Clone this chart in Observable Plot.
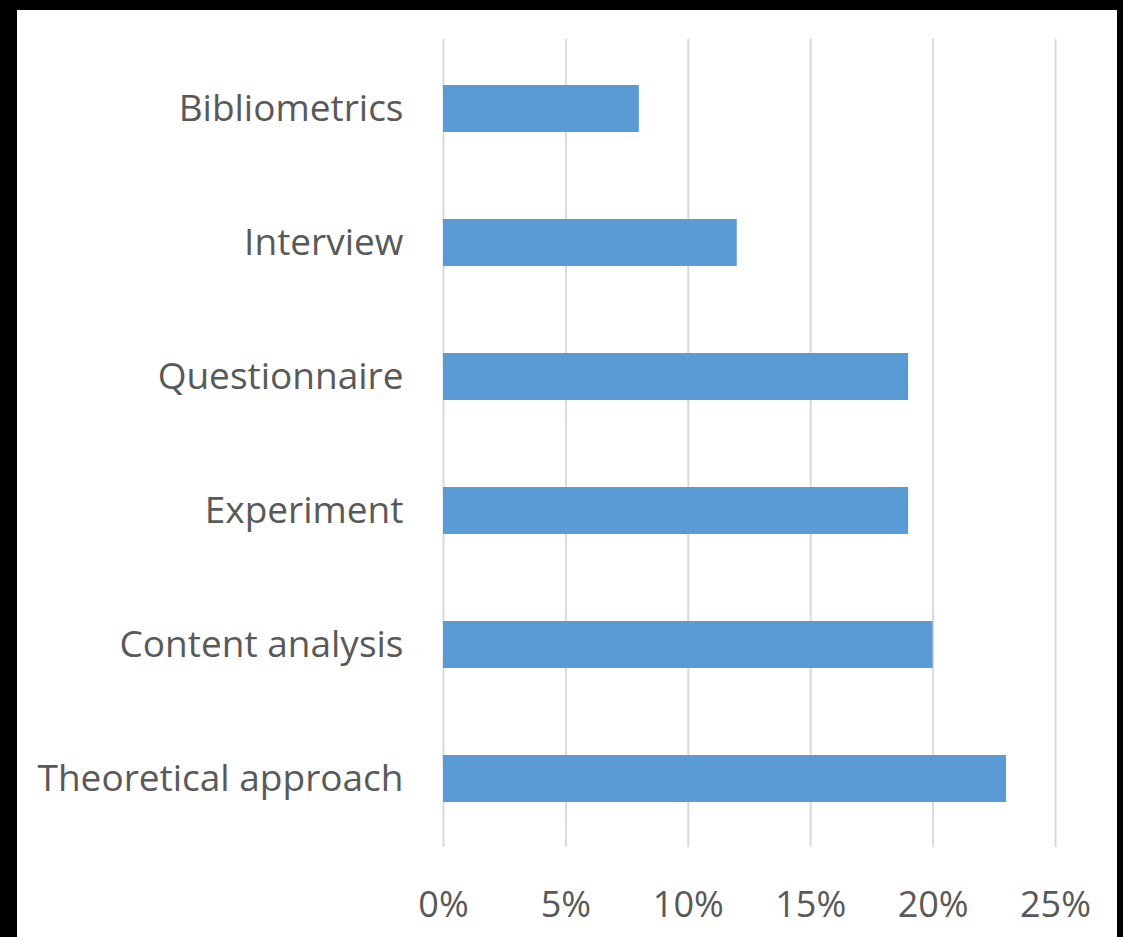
<!DOCTYPE html>
<html><head><meta charset="utf-8">
<script src="https://cdn.jsdelivr.net/npm/d3@7"></script>
<script src="https://cdn.jsdelivr.net/npm/@observablehq/plot@0.6"></script>
<style>
html,body{margin:0;padding:0;background:#000;}
#frame{box-sizing:border-box;width:1123px;height:937px;padding:10px 6px 0 17px;background:#000;}
#chart{background:#fff;width:1100px;height:927px;}
svg{display:block;}
</style></head><body>
<div id="frame"><div id="chart"></div></div>
<script>
const categories = ["Bibliometrics","Interview","Questionnaire","Experiment","Content analysis","Theoretical approach"];
const values = [8, 12, 19, 19, 20, 23];
const xTicks = [0, 5, 10, 15, 20, 25];
const data = categories.map((c, i) => ({category: c, value: values[i]}));

const plot = Plot.plot({
  width: 1100,
  height: 927,
  marginLeft: 426,
  marginRight: 62,
  marginTop: 29,
  marginBottom: 90,
  style: {fontFamily: "'Open Sans', sans-serif", fontSize: "36px", color: "#595959", background: "#fff"},
  x: {domain: [0, 25], ticks: xTicks, tickFormat: d => d + "%", label: null},
  y: {domain: categories, padding: 0.65, paddingOuter: 0.32, label: null},
  marks: [
    Plot.ruleX(xTicks, {stroke: "#d9d9d9", strokeWidth: 2}),
    Plot.barX(data, {y: "category", x: "value", fill: "#5b9bd5"}),
    Plot.axisX({ticks: xTicks, tickFormat: d => d + "%", tickSize: 0, tickPadding: 44, fill: "#595959", fontSize: 36, label: null}),
    Plot.axisY({tickSize: 0, tickPadding: 40, fill: "#595959", fontSize: 37, label: null})
  ]
});
document.getElementById("chart").appendChild(plot);
</script>
</body></html>
